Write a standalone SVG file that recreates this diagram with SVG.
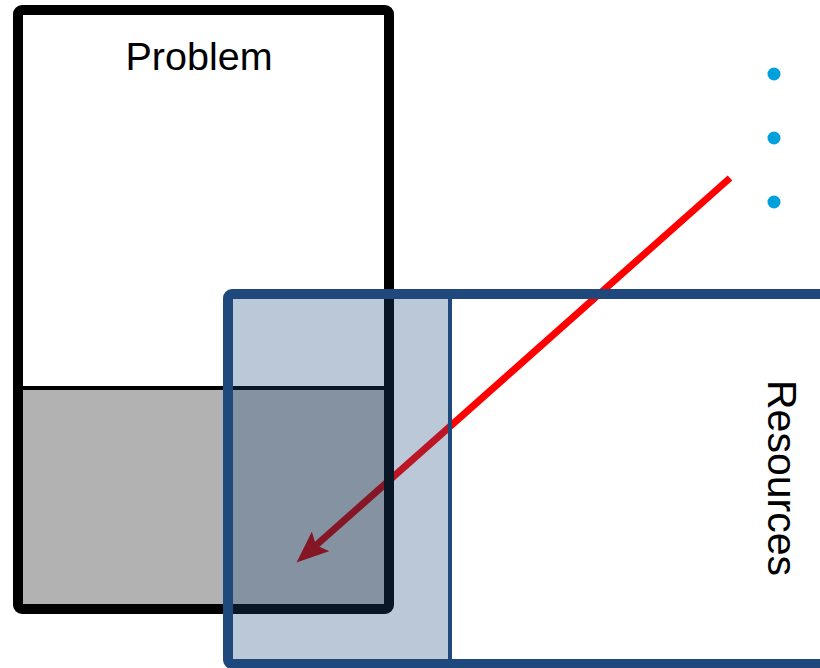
<svg xmlns="http://www.w3.org/2000/svg" width="820" height="668" viewBox="0 0 820 668">
  <style>
    .label { font-family: "Liberation Sans", Arial, sans-serif; font-size: 39px; fill: #000; }
    .bullet { fill: #00a0dc; }
    .blue { stroke: #1f497d; fill: none; }
  </style>
  <defs>
    <marker id="head" markerUnits="userSpaceOnUse" viewBox="0 0 32 26" markerWidth="32" markerHeight="26" refX="10" refY="13" orient="auto">
      <path d="M0,0 L32,13 L0,26 L6,13 Z" fill="#ff0000"/>
    </marker>
  </defs>
  <rect width="820" height="668" fill="#fff"/>
  <g id="connectors">
    <line x1="730" y1="178" x2="313" y2="548" stroke="#ff0000" stroke-width="7" marker-end="url(#head)"/>
  </g>
  <g id="problem">
    <rect x="18" y="388" width="371" height="221" fill="#000" fill-opacity="0.3"/>
    <line x1="18" y1="388" x2="389" y2="388" stroke="#000" stroke-width="4"/>
    <rect x="18" y="10" width="371" height="599" rx="4" fill="none" stroke="#000" stroke-width="10"/>
    <text class="label" x="199" y="70" text-anchor="middle" style="font-size:39.5px">Problem</text>
  </g>
  <g id="resources">
    <rect x="228" y="294" width="222" height="370" fill="#1f497d" fill-opacity="0.3"/>
    <line class="blue" x1="450" y1="294" x2="450" y2="664" stroke-width="4"/>
    <rect class="blue" x="228" y="294" width="700" height="370" rx="4" stroke-width="10"/>
    <text class="label" transform="translate(768,478) rotate(90)" text-anchor="middle" style="font-size:41px">Resources</text>
  </g>
  <g id="bullets">
    <circle class="bullet" cx="774" cy="74" r="6.5"/>
    <circle class="bullet" cx="774" cy="138" r="6.5"/>
    <circle class="bullet" cx="774" cy="202" r="6.5"/>
  </g>
</svg>
